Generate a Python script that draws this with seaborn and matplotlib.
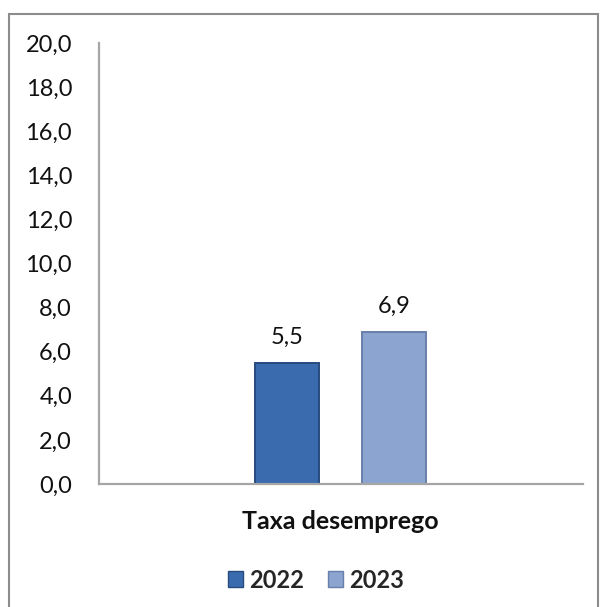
import matplotlib
matplotlib.use("Agg")
import matplotlib.pyplot as plt
import seaborn as sns
import pandas as pd
from matplotlib.patches import Patch, Rectangle
from matplotlib.ticker import FuncFormatter

categories = ["Taxa desemprego"]
years = ["2022", "2023"]
values_2022 = [5.5]
values_2023 = [6.9]
colors = ["#3A6BAE", "#8BA4D0"]
edges = ["#284B7E", "#687FAA"]

rows = []
for c, v in zip(categories, values_2022):
    rows.append({"cat": c, "year": "2022", "val": v})
for c, v in zip(categories, values_2023):
    rows.append({"cat": c, "year": "2023", "val": v})
df = pd.DataFrame(rows)

sns.set_theme(style="white")
plt.rcParams["font.family"] = ["Lato", "DejaVu Sans"]

fig = plt.figure(figsize=(6.01, 6.07), dpi=100)
ax = fig.add_axes([98.5 / 601, 1 - 484 / 607, (583 - 98.5) / 601, (484 - 43) / 607])

sns.barplot(data=df, x="cat", y="val", hue="year", hue_order=years,
            palette=colors, width=0.44, gap=0.4, ax=ax, legend=False,
            saturation=1)

for patch, ec in zip(ax.patches, edges):
    patch.set_edgecolor(ec)
    patch.set_linewidth(1.4)

for cont in ax.containers:
    ax.bar_label(cont, labels=[f"{v:.1f}".replace(".", ",") for v in cont.datavalues],
                 padding=11, fontsize=17, color="#111111")

ax.set_ylim(0, 20)
ax.set_xlim(-0.5, 0.5)
ax.set_yticks(range(0, 21, 2))
ax.yaxis.set_major_formatter(FuncFormatter(lambda v, p: f"{v:.1f}".replace(".", ",")))
ax.tick_params(axis="y", length=0, pad=19, labelsize=17, labelcolor="#111111")
ax.tick_params(axis="x", length=0, pad=19, labelsize=18, labelcolor="#111111")
for lab in ax.get_xticklabels():
    lab.set_fontweight("bold")
ax.set_xlabel("")
ax.set_ylabel("")
for s in ["top", "right"]:
    ax.spines[s].set_visible(False)
for s in ["left", "bottom"]:
    ax.spines[s].set_color("#A6A6A6")
    ax.spines[s].set_linewidth(1.6)

handles = [Patch(facecolor=c, edgecolor=e, label=y) for c, e, y in zip(colors, edges, years)]
fig.legend(handles=handles, loc="center", bbox_to_anchor=(316 / 601, 1 - 580 / 607),
           ncol=2, frameon=False, handlelength=0.65, handleheight=0.65,
           handletextpad=0.25, columnspacing=1.0,
           prop={"weight": "bold", "size": 17})

fig.patches.append(Rectangle((8.5 / 601, -0.05), (598 - 8.5) / 601, 0.05 + 1 - 14 / 607,
                             transform=fig.transFigure, fill=False,
                             edgecolor="#8C8C8C", linewidth=1.5))

fig.savefig("out.png", dpi=100)
